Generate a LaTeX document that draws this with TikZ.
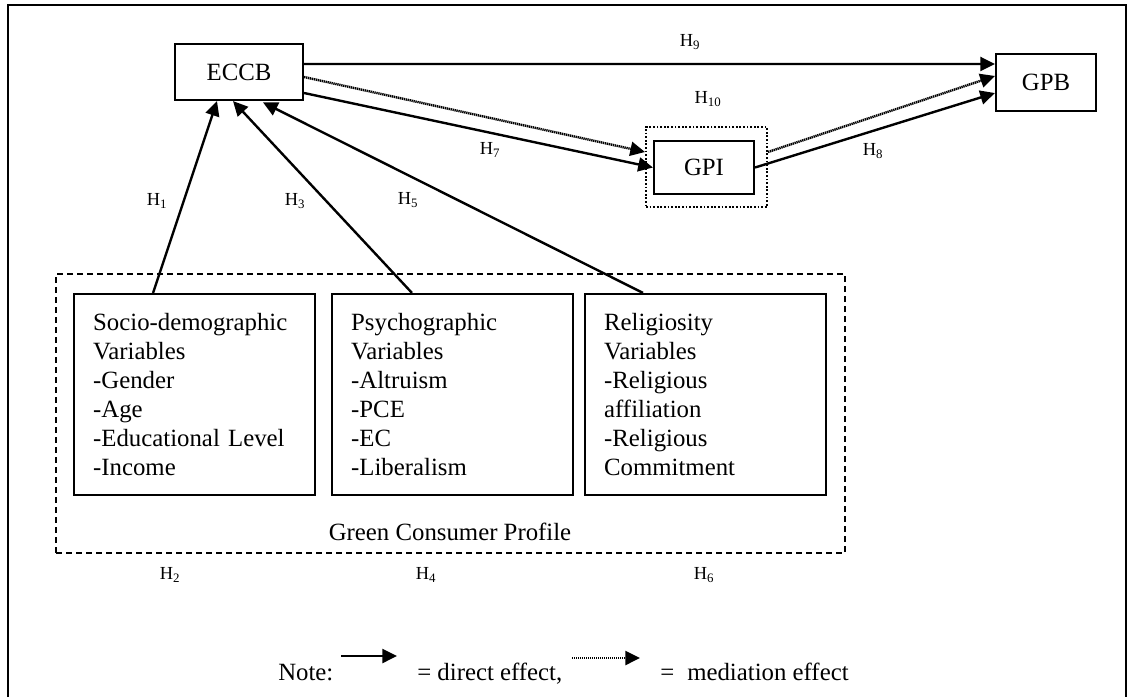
\documentclass[tikz,border=0pt]{standalone}
\usepackage{fontspec}
\setmainfont{Liberation Serif}
\usetikzlibrary{arrows.meta}
\tikzset{
  box/.style={draw, line width=1.6pt, inner sep=0pt, font=\fontsize{18.6}{21.75}\selectfont},
  varbox/.style={box, minimum width=180.75pt, minimum height=150.75pt, text width=152pt, align=left},
  hlab/.style={font=\fontsize{13.8}{16}\selectfont, inner sep=0pt},
  txt/.style={font=\fontsize{18.6}{21.75}\selectfont, inner sep=0pt},
  direct/.style={line width=1.8pt, -{Triangle[length=11pt,width=10.5pt]}},
  mediation/.style={line width=1.8pt, dash pattern=on 1pt off 0.5pt, -{Triangle[length=11pt,width=10.5pt]}}
}
\begin{document}
\begin{tikzpicture}[x=0.75pt,y=-0.75pt]
\useasboundingbox (0,0) rectangle (1128,697);
% outer frame (open at bottom)
\draw[line width=1.6pt] (8,697) -- (8,5) -- (1126,5) -- (1126,697);

% main nodes
\node[box, minimum width=96pt, minimum height=42pt] (eccb) at (239,72) {ECCB};
\node[box, minimum width=75pt, minimum height=42.75pt] (gpb) at (1046,82.5) {GPB};
\node[box, minimum width=75pt, minimum height=39.75pt] (gpi) at (704,167.5) {GPI};
\node[draw, line width=1.5pt, dash pattern=on 1.4pt off 1.3pt, inner sep=0pt, minimum width=90.75pt, minimum height=60pt] (gpiout) at (706.5,167) {};

% green consumer profile group
\node[draw, line width=1.2pt, dash pattern=on 4.5pt off 3pt, inner sep=0pt, minimum width=591.75pt, minimum height=209.25pt] (group) at (450.5,413.5) {};
\node[varbox] (socio) at (194.5,394.5) {Socio-demographic\\Variables\\-Gender\\-Age\\-Educational Level\\-Income};
\node[varbox] (psycho) at (452.5,394.5) {Psychographic\\Variables\\-Altruism\\-PCE\\-EC\\-Liberalism};
\node[varbox] (relig) at (705.5,394.5) {Religiosity\\Variables\\-Religious\\affiliation\\-Religious\\Commitment};
\node[txt] (gcp) at (450,532) {Green Consumer Profile};

% connectors
\draw[direct] ([yshift=6pt]eccb.east) -- ([yshift=13.9pt]gpb.west);
\draw[mediation] ([yshift=-3.75pt]eccb.east) -- ([yshift=11.25pt]gpiout.west);
\draw[direct] ([yshift=-15.75pt]eccb.east) -- (gpi.west);
\draw[mediation] ([yshift=11.25pt]gpiout.east) -- ([yshift=4.9pt]gpb.west);
\draw[direct] (gpi.east) -- ([yshift=-7.9pt]gpb.west);
\draw[direct] ([xshift=-31.1pt]socio.north) -- ([xshift=-16.5pt]eccb.south);
\draw[direct] ([xshift=-30.4pt]psycho.north) -- ([xshift=-4.5pt]eccb.south);
\draw[direct] ([xshift=-46.9pt]relig.north) -- ([xshift=18pt,yshift=-1pt]eccb.south);

% hypothesis labels
\node[hlab] (h9) at (690,42) {H\textsubscript{9}};
\node[hlab] (h10) at (708,99) {H\textsubscript{10}};
\node[hlab] (h7) at (490,150) {H\textsubscript{7}};
\node[hlab] (h8) at (873,151) {H\textsubscript{8}};
\node[hlab] (h1) at (157,201) {H\textsubscript{1}};
\node[hlab] (h3) at (295,201) {H\textsubscript{3}};
\node[hlab] (h5) at (408,200) {H\textsubscript{5}};
\node[hlab] (h2) at (170,575) {H\textsubscript{2}};
\node[hlab] (h4) at (426,575) {H\textsubscript{4}};
\node[hlab] (h6) at (704,575) {H\textsubscript{6}};

% legend
\node[txt, anchor=base west] (note) at (278,680) {Note:};
\coordinate (la1) at (341,656);
\coordinate (la2) at (397,656);
\draw[direct] (la1) -- (la2);
\node[txt, anchor=base west] (direct) at (417,680) {= direct effect,};
\coordinate (lb1) at (572,658);
\coordinate (lb2) at (640,658);
\draw[mediation] (lb1) -- (lb2);
\node[txt, anchor=base west] (eq) at (660,680) {=};
\node[txt, anchor=base west] (med) at (687,680) {mediation effect};
\end{tikzpicture}
\end{document}
